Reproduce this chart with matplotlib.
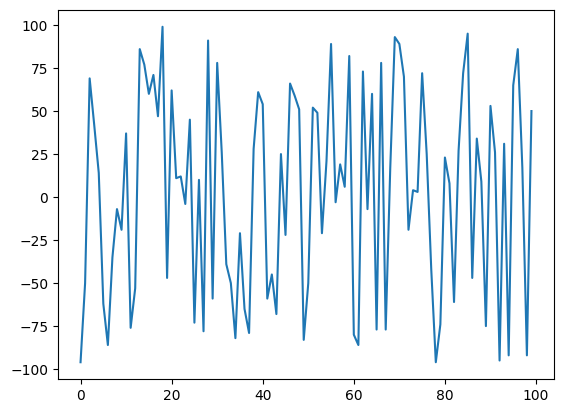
import matplotlib
matplotlib.use("Agg")
import matplotlib.pyplot as plt

values = [
    -96, -50, 69, 42, 14, -62, -86, -35, -7, -19,
    37, -76, -53, 86, 77, 60, 71, 47, 99, -47,
    62, 11, 12, -4, 45, -73, 10, -78, 91, -59,
    78, 26, -39, -50, -82, -21, -65, -79, 28, 61,
    54, -59, -45, -68, 25, -22, 66, 59, 51, -83,
    -50, 52, 49, -21, 21, 89, -3, 19, 6, 82,
    -80, -86, 73, -7, 60, -77, 78, -77, 17, 93,
    89, 70, -19, 4, 3, 72, 25, -42, -96, -74,
    23, 8, -61, 27, 72, 95, -47, 34, 9, -75,
    53, 26, -95, 31, -92, 65, 86, 17, -92, 50,
]
x = list(range(len(values)))

fig = plt.figure(figsize=(5.63, 4.13), dpi=100)
ax = fig.add_axes([58 / 563, 34 / 413, 496 / 563, 369 / 413])
ax.plot(x, values)
fig.savefig("out.png", dpi=100)
